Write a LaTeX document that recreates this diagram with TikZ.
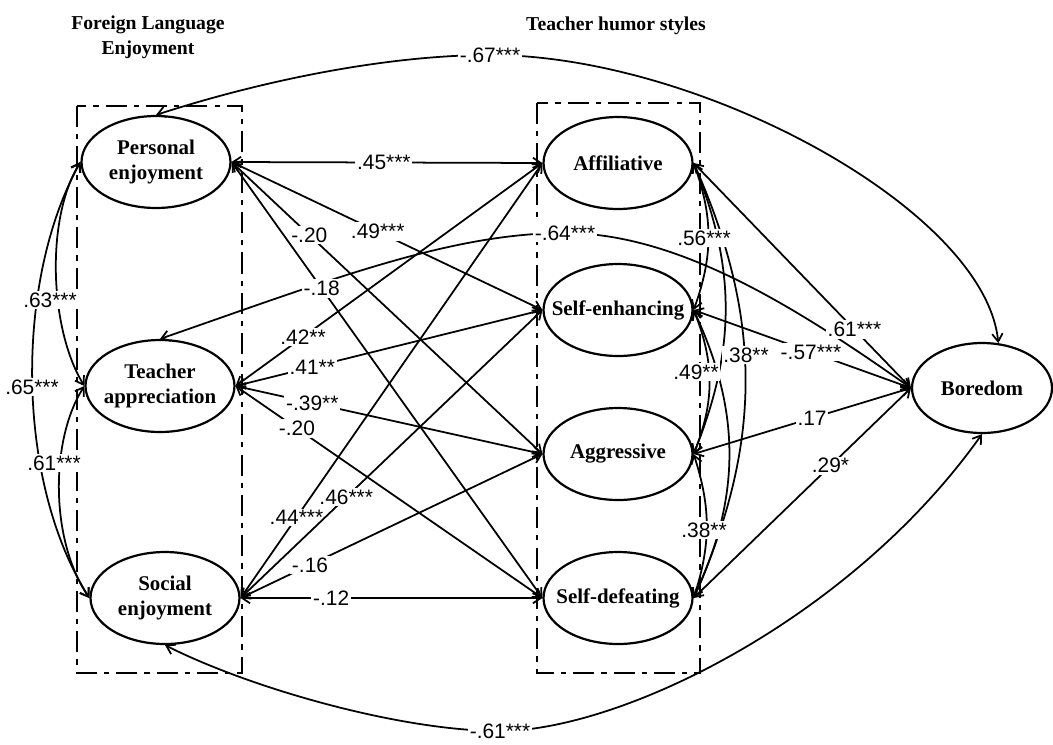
\documentclass[tikz,border=0pt]{standalone}
\usepackage{fontspec}
\setmainfont{Liberation Serif}
\newfontfamily\labfont{Liberation Sans}
\usetikzlibrary{shapes.geometric,arrows.meta}
\begin{document}
\begin{tikzpicture}[x=0.02cm,y=-0.02cm,
  >={Straight Barb[length=4.5pt,width=6pt]},
  lat/.style={ellipse,draw,line width=1.25pt,fill=white,inner sep=0pt,minimum width=2.98cm,minimum height=1.84cm},
  ntext/.style={font=\fontsize{11.9}{14}\selectfont\bfseries,align=center,inner sep=0pt},
  ttl/.style={font=\fontsize{11.2}{14}\selectfont\bfseries,align=center},
  lab/.style={font=\labfont\fontsize{11.9}{13}\selectfont,fill=white,inner sep=1pt},
  cov/.style={<->,line width=1pt},
  grp/.style={draw,line width=1.4pt,dash pattern=on 12pt off 4pt on 3pt off 4pt}]
\useasboundingbox (0,0) rectangle (1053,744);

% titles
\node[ttl] (t1) at (148,37) {Foreign Language\\Enjoyment};
\node[ttl] (t2) at (616,26) {Teacher humor styles};

% group boxes
\draw[grp] (77,106) rectangle (242,673);
\draw[grp] (537,103) rectangle (700,673);

% latent variables
\node[lat,label={[ntext]center:Personal\\enjoyment}] (pe) at (156,162) {};
\node[lat,label={[ntext]center:Teacher\\appreciation}] (ta) at (160,386) {};
\node[lat,label={[ntext]center:Social\\enjoyment}] (se) at (165,598) {};
\node[lat,label={[ntext]center:Affiliative}] (aff) at (618,163) {};
\node[lat,label={[ntext]center:Self-enhancing}] (sen) at (618,310) {};
\node[lat,label={[ntext]center:Aggressive}] (agg) at (618,454) {};
\node[lat,label={[ntext]center:Self-defeating}] (sdf) at (618,598) {};
\node[lat,minimum width=2.8cm,minimum height=1.8cm,label={[ntext]center:Boredom}] (bor) at (982,388) {};

% long curves
\draw[cov] (pe.north) .. controls (280,75) and (400,55) .. (490,55) .. controls (700,55) and (985,210) .. (bor.70);
\draw[cov] (se.south) .. controls (250,688) and (400,731) .. (500,731) .. controls (620,731) and (850,620) .. (bor.south);
\draw[cov] (ta.north) .. controls (330,280) and (450,233) .. (565,233) .. controls (680,233) and (800,310) .. (bor.west);

% left covariances
\draw[cov] (pe.west) .. controls (45,220) and (50,330) .. (ta.west);
\draw[cov] (ta.west) .. controls (50,440) and (50,540) .. (se.west);
\draw[cov] (pe.west) .. controls (15,280) and (15,480) .. (se.west);

% right covariances
\draw[cov] (aff.east) to[bend left=20] (sen.east);
\draw[cov] (aff.east) to[bend left=22] (agg.east);
\draw[cov] (aff.east) to[bend left=24] (sdf.east);
\draw[cov] (sen.east) to[bend left=22] (agg.east);
\draw[cov] (sen.east) to[bend left=25] (sdf.east);
\draw[cov] (agg.east) to[bend left=18] (sdf.east);

% enjoyment - humor styles
\draw[cov] (pe.east) -- node[lab,pos=0.49]{.45***} (aff.west);
\draw[cov] (pe.east) -- node[lab,pos=0.47]{.49***} (sen.west);
\draw[cov] (pe.east) -- node[lab,pos=0.25]{-.20} (agg.west);
\draw[cov] (pe.east) -- node[lab,pos=0.29]{-.18} (sdf.west);
\draw[cov] (ta.east) -- node[lab,pos=0.22]{.42**} (aff.west);
\draw[cov] (ta.east) -- node[lab,pos=0.25]{.41**} (sen.west);
\draw[cov] (ta.east) -- node[lab,pos=0.25]{-.39**} (agg.west);
\draw[cov] (ta.east) -- node[lab,pos=0.2]{-.20} (sdf.west);
\draw[cov] (se.east) -- node[lab,pos=0.185]{.44***} (aff.west);
\draw[cov] (se.east) -- node[lab,pos=0.35]{.46***} (sen.west);
\draw[cov] (se.east) -- node[lab,pos=0.23]{-.16} (agg.west);
\draw[cov] (se.east) -- node[lab,pos=0.3]{-.12} (sdf.west);

% humor styles - boredom
\draw[cov] (aff.east) -- node[lab,pos=0.74]{.61***} (bor.west);
\draw[cov] (sen.east) -- node[lab,pos=0.54]{-.57***} (bor.west);
\draw[cov] (agg.east) -- node[lab,pos=0.545]{.17} (bor.west);
\draw[cov] (sdf.east) -- node[lab,pos=0.63]{.29*} (bor.west);

% curve labels
\node[lab] (l67) at (490,55) {-.67***};
\node[lab] (l61b) at (500,731) {-.61***};
\node[lab] (l64) at (565,233) {-.64***};
\node[lab] (l63) at (50,300) {.63***};
\node[lab] (l65) at (32,387) {.65***};
\node[lab] (l61a) at (54,463) {.61***};
\node[lab] (l56) at (704,238) {.56***};
\node[lab] (l49) at (696,372) {.49**};
\node[lab] (l38a) at (746,355) {.38**};
\node[lab] (l38b) at (704,530) {.38**};
\end{tikzpicture}
\end{document}
